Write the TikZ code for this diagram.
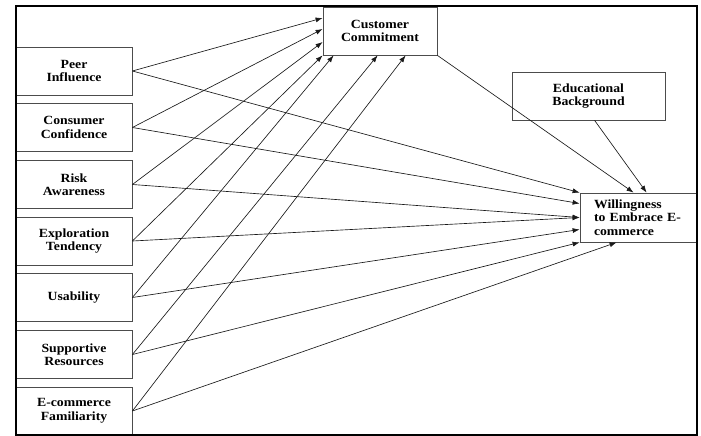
\documentclass[tikz,border=0pt]{standalone}
\usepackage{fontspec}
\setmainfont{Liberation Serif}[FakeStretch=1.1]
\usetikzlibrary{arrows.meta}

\begin{document}
\begin{tikzpicture}[x=1pt, y=-1pt,
  font=\fontsize{12.5}{13.5}\selectfont\bfseries,
  box/.style={draw=black!70, line width=0.8pt, align=center, minimum width=116pt, minimum height=48pt, inner sep=0pt},
  arr/.style={-{Latex[length=7pt, width=5pt]}, black!90, line width=0.65pt}]
  \useasboundingbox (0,0) rectangle (701,436);
  % antecedents down the left edge, mediator on top, outcome on the right
  \node[box] (peer) at (74,71)    {Peer\\Influence};
  \node[box] (cons) at (74,127.5) {Consumer\\Confidence};
  \node[box] (risk) at (74,184.5) {Risk\\Awareness};
  \node[box] (expl) at (74,241)   {Exploration\\Tendency};
  \node[box] (usab) at (74,297.5) {Usability};
  \node[box] (supp) at (74,354.5) {Supportive\\Resources};
  \node[box] (fam)  at (74,411)   {E-commerce\\Familiarity};
  \node[box, minimum width=114pt] (cc)  at (380,31)   {Customer\\Commitment};
  \node[box, minimum width=153pt] (edu) at (588.5,96) {Educational\\Background};
  \node[box, minimum height=49pt, align=left, text width=88pt, inner xsep=13pt] (will) at (638,217.5) {Willingness\\to Embrace E-\\commerce};
  % paths to the mediator
  \draw[arr] (peer.east) -- ([yshift=13pt]cc.west);
  \draw[arr] (cons.east) -- ([yshift=2pt]cc.west);
  \draw[arr] (risk.east) -- ([yshift=-11pt]cc.west);
  \draw[arr] (expl.east) -- (cc.south west);
  \draw[arr] (usab.east) -- ([xshift=11pt]cc.south west);
  \draw[arr] (supp.east) -- ([xshift=55pt]cc.south west);
  \draw[arr] (fam.east) -- ([xshift=83pt]cc.south west);
  % direct paths to the outcome
  \draw[arr] (peer.east) -- (will.north west);
  \draw[arr] (cons.east) -- ([yshift=14pt]will.west);
  \draw[arr] (risk.east) -- (will.west);
  \draw[arr] (expl.east) -- (will.west);
  \draw[arr] (usab.east) -- ([yshift=-12pt]will.west);
  \draw[arr] (supp.east) -- (will.south west);
  \draw[arr] (fam.east) -- ([xshift=37pt]will.south west);
  \draw[arr] (cc.south east) -- ([xshift=54pt]will.north west);
  \draw[arr] ([xshift=83pt]edu.south west) -- ([xshift=67pt]will.north west);
  % outer frame
  \draw[line width=1.2pt] (16,6) rectangle (697,435);
\end{tikzpicture}
\end{document}
